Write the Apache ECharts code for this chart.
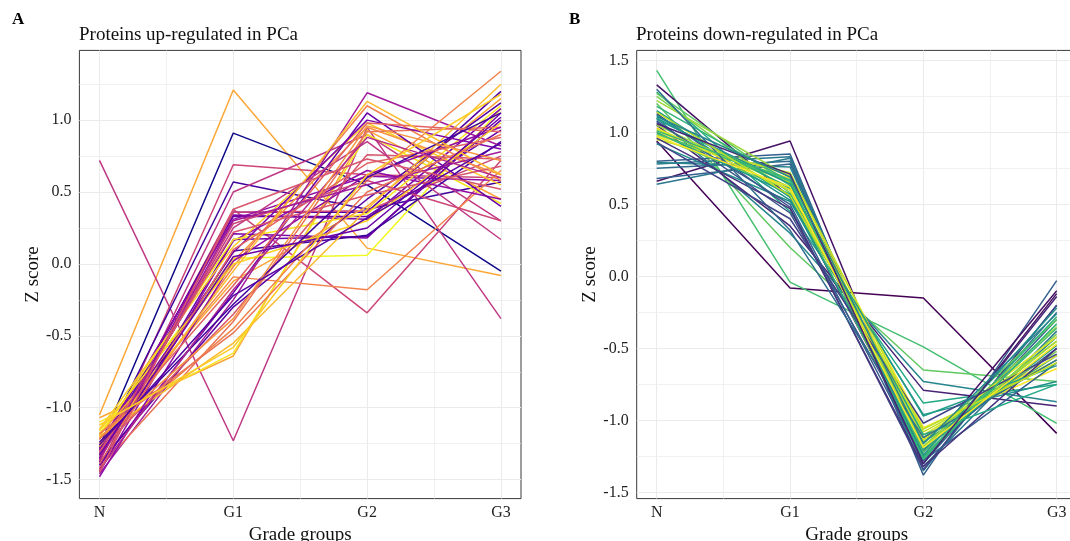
<!DOCTYPE html>
<html>
<head>
<meta charset="utf-8">
<title>Z score by grade group</title>
<script src="https://cdn.jsdelivr.net/npm/echarts@6/dist/echarts.min.js"></script>
<style>
  html, body { margin: 0; padding: 0; background: #fff; }
  #main { width: 1070px; height: 541px; }
</style>
</head>
<body>
<div id="main"></div>
<script>
const grades = ["N", "G1", "G2", "G3"];
const yTicks = [-1.5, -1.0, -0.5, 0.0, 0.5, 1.0, 1.5];

// up-regulated proteins, one entry per protein
const upN  = [-1.05, -1.27, 0.72, -1.38, -1.30, -1.42, -1.35, -1.22, -1.18, -1.07, -1.10, -1.32, -1.36, -1.28, -1.44, -1.26, -1.30, -1.40, -1.35, -1.45, -1.20, -1.15, -1.25, -1.33, -1.19, -1.40, -1.46, -1.38, -1.30, -1.42, -1.25, -1.20, -1.48, -1.34, -1.37, -1.29, -1.22, -1.16, -1.31, -1.27, -1.39, -1.24, -1.43, -1.36, -1.21, -1.18, -1.33, -1.45, -1.26, -1.12];
const upG1 = [1.21, 0.91, -1.23, 0.69, 0.57, 0.50, 0.38, -0.09, 0.04, -0.64, -0.62, 0.36, 0.34, 0.33, 0.36, 0.31, 0.21, 0.17, 0.09, 0.16, 0.17, 0.12, 0.02, -0.02, -0.12, -0.20, -0.25, -0.30, -0.35, -0.40, -0.45, -0.55, 0.02, 0.25, 0.28, 0.08, -0.15, 0.00, 0.22, -0.05, 0.10, -0.28, -0.18, 0.30, -0.38, -0.48, 0.05, 0.38, -0.22, -0.58];
const upG2 = [0.11, 0.55, 0.95, 0.62, 0.38, 0.90, -0.34, -0.18, 0.06, 0.93, 0.90, 0.36, 0.31, 0.33, 0.37, 0.61, 0.18, 0.19, 0.20, 0.65, 0.35, 0.98, 0.95, 1.10, 0.40, 1.05, 1.19, 0.45, 0.76, 0.92, 0.58, 0.38, 0.62, 0.85, 0.58, 1.00, 0.98, 0.30, 0.48, 1.13, 0.70, 0.60, 0.88, 0.55, 0.96, 0.50, 0.25, 0.73, 0.32, 0.62];
const upG3 = [-0.08, -0.05, -0.38, 0.60, 0.57, 0.30, 0.72, 0.65, 1.08, 0.45, 0.42, 1.20, 1.08, 0.93, 0.75, 0.58, 1.05, 1.00, 0.85, 0.45, 1.10, 0.55, 0.62, 0.58, 1.15, 0.40, 0.82, 1.12, 0.73, 0.95, 1.34, 1.25, 0.95, 0.17, 0.30, 0.80, 0.92, 0.98, 0.68, 0.62, 0.88, 1.05, 0.60, 0.78, 0.72, 0.90, 1.02, 0.52, 0.84, 1.18];
const upTone = [0.8, 0.0, 0.45, 0.5, 0.1, 0.45, 0.5, 0.7, 1.0, 0.8, 0.95, 0.15, 0.25, 0.2, 0.5, 0.3, 0.25, 0.2, 0.1, 0.3, 0.95, 0.9, 0.75, 0.7, 0.8, 0.2, 0.35, 0.15, 0.55, 0.65, 0.7, 0.85, 0.3, 0.45, 0.5, 0.25, 0.6, 0.9, 0.55, 0.85, 0.6, 0.1, 0.4, 0.35, 0.75, 0.65, 0.2, 0.55, 0.15, 0.9];

// down-regulated proteins
const downN  = [0.94, 0.66, 1.43, 1.20, 1.10, 1.05, 1.28, 0.92, 0.80, 0.78, 0.75, 0.68, 0.64, 0.79, 1.33, 1.13, 1.08, 1.12, 1.00, 0.98, 1.02, 1.05, 0.97, 1.25, 1.27, 1.18, 0.95, 1.15, 1.07, 0.96, 1.00, 1.10, 1.22, 0.99, 1.03, 1.30, 0.93, 1.09, 1.01, 1.14, 0.97, 1.06, 1.11];
const downG1 = [-0.08, 0.94, -0.04, 0.20, 0.30, 0.35, 0.45, 0.52, 0.85, 0.83, 0.80, 0.78, 0.82, 0.76, 0.55, 0.48, 0.44, 0.53, 0.70, 0.68, 0.65, 0.62, 0.60, 0.58, 0.63, 0.66, 0.72, 0.55, 0.50, 0.47, 0.57, 0.61, 0.69, 0.66, 0.60, 0.32, 0.40, 0.64, 0.67, 0.56, 0.62, 0.71, 0.69];
const downG2 = [-0.15, -1.30, -0.49, -0.65, -0.73, -0.79, -0.88, -0.96, -1.38, -1.35, -1.30, -1.28, -1.32, -1.25, -1.22, -1.34, -1.20, -1.15, -1.05, -1.10, -1.14, -1.18, -1.12, -1.24, -1.16, -1.26, -1.08, -1.20, -1.28, -1.32, -0.97, -1.10, -1.18, -1.22, -1.13, -1.12, -1.02, -1.24, -1.27, -1.06, -1.19, -1.30, -1.16];
const downG3 = [-1.09, -0.12, -1.02, -0.73, -0.87, -0.90, -0.75, -0.73, -0.03, -0.20, -0.25, -0.30, -0.38, -0.42, -0.10, -0.20, -0.50, -0.55, -0.64, -0.55, -0.45, -0.35, -0.52, -0.40, -0.30, -0.28, -0.58, -0.48, -0.60, -0.50, -0.62, -0.75, -0.45, -0.36, -0.42, -0.58, -0.54, -0.22, -0.33, -0.60, -0.47, -0.14, -0.26];
const downTone = [0.0, 0.05, 0.7, 0.75, 0.45, 0.1, 0.6, 0.5, 0.3, 0.4, 0.35, 0.3, 0.4, 0.45, 0.05, 0.2, 0.25, 0.5, 1.0, 0.95, 0.9, 0.85, 0.8, 0.8, 0.75, 0.65, 0.9, 0.55, 0.3, 0.15, 0.55, 0.6, 0.85, 0.7, 0.95, 0.35, 0.2, 0.5, 0.65, 0.9, 1.0, 0.1, 0.45];

// colour ramps (plasma / viridis)
const plasma = ["#0d0887", "#41049d", "#6a00a8", "#8f0da4", "#b12a90", "#cc4778", "#e16462", "#f2844b", "#fca636", "#fcce25", "#f0f921"];
const viridis = ["#440154", "#482475", "#414487", "#355f8d", "#2a788e", "#21918c", "#22a884", "#44bf70", "#7ad151", "#bddf26", "#fde725"];

function ramp(stops, t) {
  const pos = t * (stops.length - 1);
  const i = Math.min(Math.floor(pos), stops.length - 2);
  const f = pos - i;
  const a = stops[i], b = stops[i + 1];
  let out = "#";
  for (let k = 1; k < 7; k += 2) {
    const va = parseInt(a.substr(k, 2), 16);
    const vb = parseInt(b.substr(k, 2), 16);
    out += Math.round(va + (vb - va) * f).toString(16).padStart(2, "0");
  }
  return out;
}

const font = "Liberation Serif, Times New Roman, serif";
const gridColor = "#ebebeb";

// panel layout, in px (panel B runs a little past the right edge, as in the source)
const panels = [
  { left: 79.4, top: 50.4, width: 441.6, height: 448.2, min: -1.632, max: 1.485 },
  { left: 636.7, top: 50.4, width: 440, height: 448.2, min: -1.543, max: 1.569 }
];

function gridLines(p) {
  const items = [];
  [0.5, 1.5, 2.5].forEach(v => items.push({ xAxis: v, lineStyle: { width: 0.7 } }));
  [0, 1, 2, 3].forEach(v => items.push({ xAxis: v, lineStyle: { width: 1.1 } }));
  for (let v = -1.75; v <= 1.75; v += 0.5) {
    if (v > p.min && v < p.max) items.push({ yAxis: v, lineStyle: { width: 0.7 } });
  }
  yTicks.forEach(v => {
    if (v > p.min && v < p.max) items.push({ yAxis: v, lineStyle: { width: 1.1 } });
  });
  return items;
}

const option = {
  backgroundColor: "#fff",
  animation: false,
  grid: panels.map(p => ({
    left: p.left, top: p.top, width: p.width, height: p.height,
    show: true, borderColor: "#3a3a3a", borderWidth: 1, backgroundColor: "#fff",
    containLabel: false, outerBoundsMode: "none"
  })),
  xAxis: panels.map((p, i) => ({
    type: "value", gridIndex: i, min: -0.15, max: 3.15,
    name: "Grade groups", nameLocation: "middle", nameGap: 23,
    nameTextStyle: { fontFamily: font, fontSize: 19, color: "#111" },
    axisLine: { show: false },
    splitLine: { show: false },
    axisTick: { show: true, customValues: [0, 1, 2, 3], length: 5, lineStyle: { color: "#333" } },
    axisLabel: {
      customValues: [0, 1, 2, 3], margin: 6,
      fontFamily: font, fontSize: 16, color: "#222",
      formatter: v => grades[Math.round(v)]
    }
  })),
  yAxis: panels.map((p, i) => ({
    type: "value", gridIndex: i, min: p.min, max: p.max,
    name: "Z score", nameLocation: "middle", nameGap: 35,
    nameTextStyle: { fontFamily: font, fontSize: 19, color: "#111" },
    axisLine: { show: false },
    splitLine: { show: false },
    axisTick: { show: true, customValues: yTicks.filter(v => v > p.min && v < p.max), length: 5, lineStyle: { color: "#333" } },
    axisLabel: {
      customValues: yTicks.filter(v => v > p.min && v < p.max), margin: 8,
      fontFamily: font, fontSize: 16, color: "#222",
      formatter: v => v.toFixed(1)
    }
  })),
  graphic: [
    { type: "text", left: 12, top: 11, style: { text: "A", font: "bold 17px " + font, fill: "#000" } },
    { type: "text", left: 569, top: 11, style: { text: "B", font: "bold 17px " + font, fill: "#000" } },
    { type: "text", left: 79, top: 26, style: { text: "Proteins up-regulated in PCa", font: "19px " + font, fill: "#111" } },
    { type: "text", left: 636, top: 26, style: { text: "Proteins down-regulated in PCa", font: "19px " + font, fill: "#111" } }
  ],
  series: []
};

// background grid lines for each panel, kept under the data
panels.forEach((p, i) => {
  option.series.push({
    type: "line", xAxisIndex: i, yAxisIndex: i, z: 1, silent: true,
    data: [[0, 0]], showSymbol: false, lineStyle: { opacity: 0 },
    markLine: {
      z: 1, silent: true, symbol: ["none", "none"], label: { show: false },
      lineStyle: { color: gridColor, type: "solid" },
      data: gridLines(p)
    }
  });
});

function addLines(idx, vN, v1, v2, v3, tone, stops) {
  vN.forEach((_, k) => {
    option.series.push({
      type: "line", xAxisIndex: idx, yAxisIndex: idx, z: 3, silent: true,
      showSymbol: false,
      data: [[0, vN[k]], [1, v1[k]], [2, v2[k]], [3, v3[k]]],
      lineStyle: { color: ramp(stops, tone[k]), width: 1.5 }
    });
  });
}

addLines(0, upN, upG1, upG2, upG3, upTone, plasma);
addLines(1, downN, downG1, downG2, downG3, downTone, viridis);

const chart = echarts.init(document.getElementById("main"));
chart.setOption(option);
</script>
</body>
</html>
